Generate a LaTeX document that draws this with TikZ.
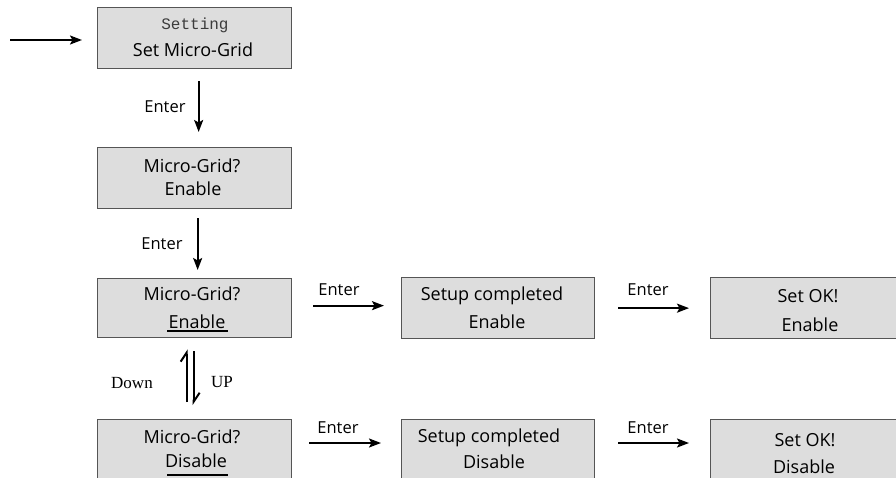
\documentclass[tikz,border=0pt]{standalone}
\usepackage{fontspec}
\setmainfont{Open Sans}
\newfontfamily\monofnt{Liberation Mono}
\newfontfamily\seriffnt{Liberation Serif}
\usetikzlibrary{arrows.meta,calc}
\definecolor{boxfill}{RGB}{221,221,221}
\definecolor{boxline}{RGB}{85,85,85}
\definecolor{settxt}{RGB}{60,60,60}
\tikzset{
  lcdbox/.style={draw=boxline, line width=1.3pt, fill=boxfill, minimum width=194pt, minimum height=61pt, inner sep=0pt, anchor=north west},
  boxtxt/.style={anchor=base, inner sep=0pt, font=\fontsize{18}{21}\selectfont},
  lbl/.style={anchor=base, inner sep=0pt, font=\fontsize{16.5}{19}\selectfont},
  keylbl/.style={anchor=base, inner sep=0pt, font=\seriffnt\fontsize{17}{20}\selectfont},
  flow/.style={line width=2pt, -{Stealth[length=12pt,width=9pt,inset=2.5pt]}},
  harp/.style={line width=2pt, -{Straight Barb[left,length=9pt,width=12pt]}},
  uline/.style={line width=1.8pt}
}
\begin{document}
\begin{tikzpicture}[x=1pt,y=-1pt]
\useasboundingbox (0,0) rectangle (896,478);
\clip (0,0) rectangle (896,478);
% boxes
\node[lcdbox] (b1) at (97,7) {};
\node[lcdbox] (b2) at (97,147) {};
\node[lcdbox, minimum height=59pt] (b3) at (97,278) {};
\node[lcdbox, minimum width=193pt] (b5) at (401,277) {};
\node[lcdbox, minimum width=193pt] (b6) at (710,277) {};
\node[lcdbox, minimum height=75pt] (b7) at (97,419) {};
\node[lcdbox, minimum width=193pt, minimum height=75pt] (b8) at (401,419) {};
\node[lcdbox, minimum width=193pt, minimum height=75pt] (b9) at (710,419) {};
% box texts
\node[boxtxt, font=\monofnt\fontsize{16}{18}\selectfont, text=settxt] (t1a) at (195,30) {Setting};
\node[boxtxt] (t1b) at (193,57) {Set Micro-Grid};
\node[boxtxt] (t2a) at (192,173) {Micro-Grid?};
\node[boxtxt] (t2b) at (193,196) {Enable};
\node[boxtxt] (t3a) at (192,300) {Micro-Grid?};
\node[boxtxt] (t3b) at (197,328) {Enable};
\node[boxtxt] (t5a) at (492,300) {Setup completed};
\node[boxtxt] (t5b) at (497,328) {Enable};
\node[boxtxt] (t6a) at (808,302) {Set OK!};
\node[boxtxt] (t6b) at (810,331) {Enable};
\node[boxtxt] (t7a) at (192,443) {Micro-Grid?};
\node[boxtxt] (t7b) at (196,467) {Disable};
\node[boxtxt] (t8a) at (489,442) {Setup completed};
\node[boxtxt] (t8b) at (494,468) {Disable};
\node[boxtxt] (t9a) at (805,446) {Set OK!};
\node[boxtxt] (t9b) at (804,473) {Disable};
% underlines
\draw[uline] (167,331) -- (228,331);
\draw[uline] (167,475) -- (228,475);
% entry arrow
\coordinate (start) at (10,40);
\draw[flow] (start) -- ([xshift=-15pt]start -| b1.west);
% vertical Enter arrows
\draw[flow] ([xshift=4pt,yshift=-12pt]b1.south) -- ([xshift=4pt,yshift=15pt]b2.north);
\draw[flow] ([xshift=3pt,yshift=-9pt]b2.south) -- ([xshift=3pt,yshift=8pt]b3.north);
\node[lbl] (e1) at (165,113) {Enter};
\node[lbl] (e2) at (162,250) {Enter};
% horizontal Enter arrows
\draw[flow] ([xshift=21pt,yshift=2.5pt]b3.east) -- ([xshift=-17pt,yshift=2.5pt]b5.west);
\draw[flow] ([xshift=23pt]b5.east) -- ([xshift=-21pt]b6.west);
\node[lbl] (e3) at (339,295) {Enter};
\node[lbl] (e4) at (648,295) {Enter};
\draw[flow] ([xshift=17pt,yshift=-24pt]b7.north east) -- ([xshift=-20pt,yshift=-24pt]b8.north west);
\draw[flow] ([xshift=23pt,yshift=-24pt]b8.north east) -- ([xshift=-21pt,yshift=-24pt]b9.north west);
\node[lbl] (e5) at (338,433) {Enter};
\node[lbl] (e6) at (648,433) {Enter};
% Down / UP
\draw[harp] ([xshift=-8pt,yshift=17pt]b7.north) -- ([xshift=-8pt,yshift=-11pt]b3.south);
\draw[harp] ([xshift=-1pt,yshift=-13pt]b3.south) -- ([xshift=-1pt,yshift=14pt]b7.north);
\node[keylbl] (kd) at (132,388) {Down};
\node[keylbl] (ku) at (222,387) {UP};
\end{tikzpicture}
\end{document}
